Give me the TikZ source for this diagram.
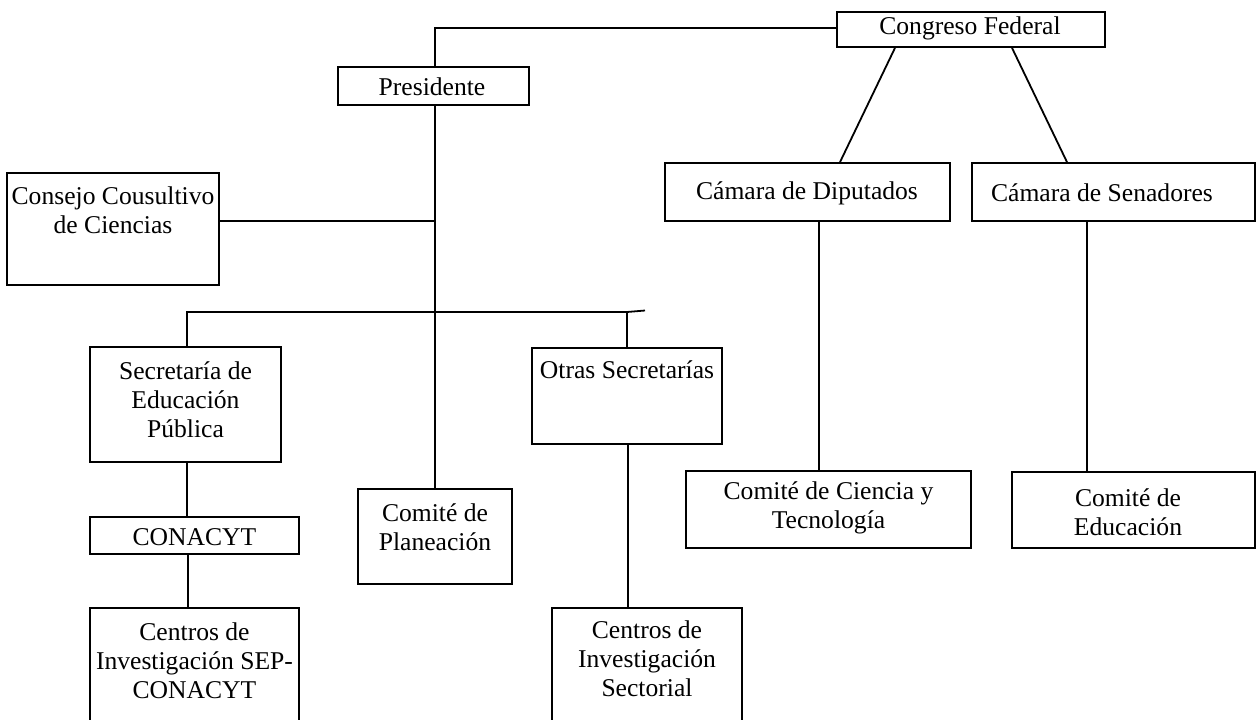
\documentclass[tikz,border=0pt]{standalone}
\usepackage{fontspec}
\setmainfont{Liberation Serif}
\begin{document}
\begin{tikzpicture}[x=0.5pt,y=-0.5pt]
\tikzset{
  box/.style={draw=black, line width=0.9pt, inner sep=0pt, fill=none},
  lbl/.style={font=\fontsize{12.8}{14.6}\selectfont, align=center, inner sep=0pt, text=black},
  conn/.style={draw=black, line width=0.9pt}
}
\useasboundingbox (0,0) rectangle (1258,719);
\clip (0,0) rectangle (1258,719);

% boxes
\node[box, minimum width=134pt, minimum height=17.5pt] (cong) at (971,29.5) {};
\node[box, minimum width=95.5pt, minimum height=19pt] (pres) at (433.5,86) {};
\node[box, minimum width=106pt, minimum height=56pt] (cons) at (113,229) {};
\node[box, minimum width=142.5pt, minimum height=29pt] (dip) at (807.5,192) {};
\node[box, minimum width=141.5pt, minimum height=29pt] (sen) at (1113.5,192) {};
\node[box, minimum width=95.5pt, minimum height=57.5pt] (sep) at (185.5,404.5) {};
\node[box, minimum width=95pt, minimum height=48pt] (otras) at (627,396) {};
\node[box, minimum width=104.5pt, minimum height=18.5pt] (conacyt) at (194.5,535.5) {};
\node[box, minimum width=77pt, minimum height=47.5pt] (plan) at (435,536.5) {};
\node[box, minimum width=142.5pt, minimum height=38.5pt] (cyt) at (828.5,509.5) {};
\node[box, minimum width=121.5pt, minimum height=38pt] (edu) at (1133.5,510) {};
\node[box, minimum width=104.5pt, minimum height=66pt] (csep) at (194.5,674) {};
\node[box, minimum width=95pt, minimum height=66pt] (csec) at (647,674) {};

% labels
\node[lbl] (tcong) at (970,28) {Congreso Federal};
\node[lbl] (tpres) at (432,87) {Presidente};
\node[lbl] (tcons) at (113,210) {Consejo Cousultivo\\de Ciencias};
\node[lbl] (tdip) at (807,193) {Cámara de Diputados};
\node[lbl] (tsen) at (1102,193) {Cámara de Senadores};
\node[lbl] (tsep) at (185.5,400) {Secretaría de\\Educación\\Pública};
\node[lbl] (totras) at (627,370) {Otras Secretarías};
\node[lbl] (tconacyt) at (194.5,537) {CONACYT};
\node[lbl] (tplan) at (435,527) {Comité de\\Planeación};
\node[lbl] (tcyt) at (828.5,507.5) {Comité de Ciencia y\\Tecnología};
\node[lbl] (tedu) at (1128,512) {Comité de\\Educación};
\node[lbl] (tcsep) at (194.5,661) {Centros de\\Investigación SEP-\\CONACYT};
\node[lbl] (tcsec) at (647,659) {Centros de\\Investigación\\Sectorial};

% connectors
\coordinate (trunk) at (435,28);
\coordinate (br) at (435,312);
\draw[conn] (cong.west |- trunk) -- (trunk) -- (trunk |- pres.north);
\draw[conn] (trunk |- pres.south) -- (trunk |- plan.north);
\draw[conn] ([yshift=4pt]cons.east) -- ([yshift=4pt]cons.east -| trunk);
\coordinate (brL) at (187,312);
\coordinate (brR) at (627,312);
\draw[conn] (brL |- sep.north) -- (brL) -- (brR) -- (brR |- otras.north);
\draw[conn] (brR) -- ++(18,-1.5);
\draw[conn] (brL |- sep.south) -- (brL |- conacyt.north);
\coordinate (cv) at (188,0);
\draw[conn] (cv |- conacyt.south) -- (cv |- csep.north);
\coordinate (ov) at (628,0);
\draw[conn] (ov |- otras.south) -- (ov |- csec.north);
\coordinate (dv) at (819,0);
\draw[conn] (dv |- dip.south) -- (dv |- cyt.north);
\coordinate (sv) at (1087,0);
\draw[conn] (sv |- sen.south) -- (sv |- edu.north);
\draw[conn] ([xshift=-38pt]cong.south) -- ([xshift=16.25pt]dip.north);
\draw[conn] ([xshift=20.5pt]cong.south) -- ([xshift=-23.25pt]sen.north);
\end{tikzpicture}
\end{document}
